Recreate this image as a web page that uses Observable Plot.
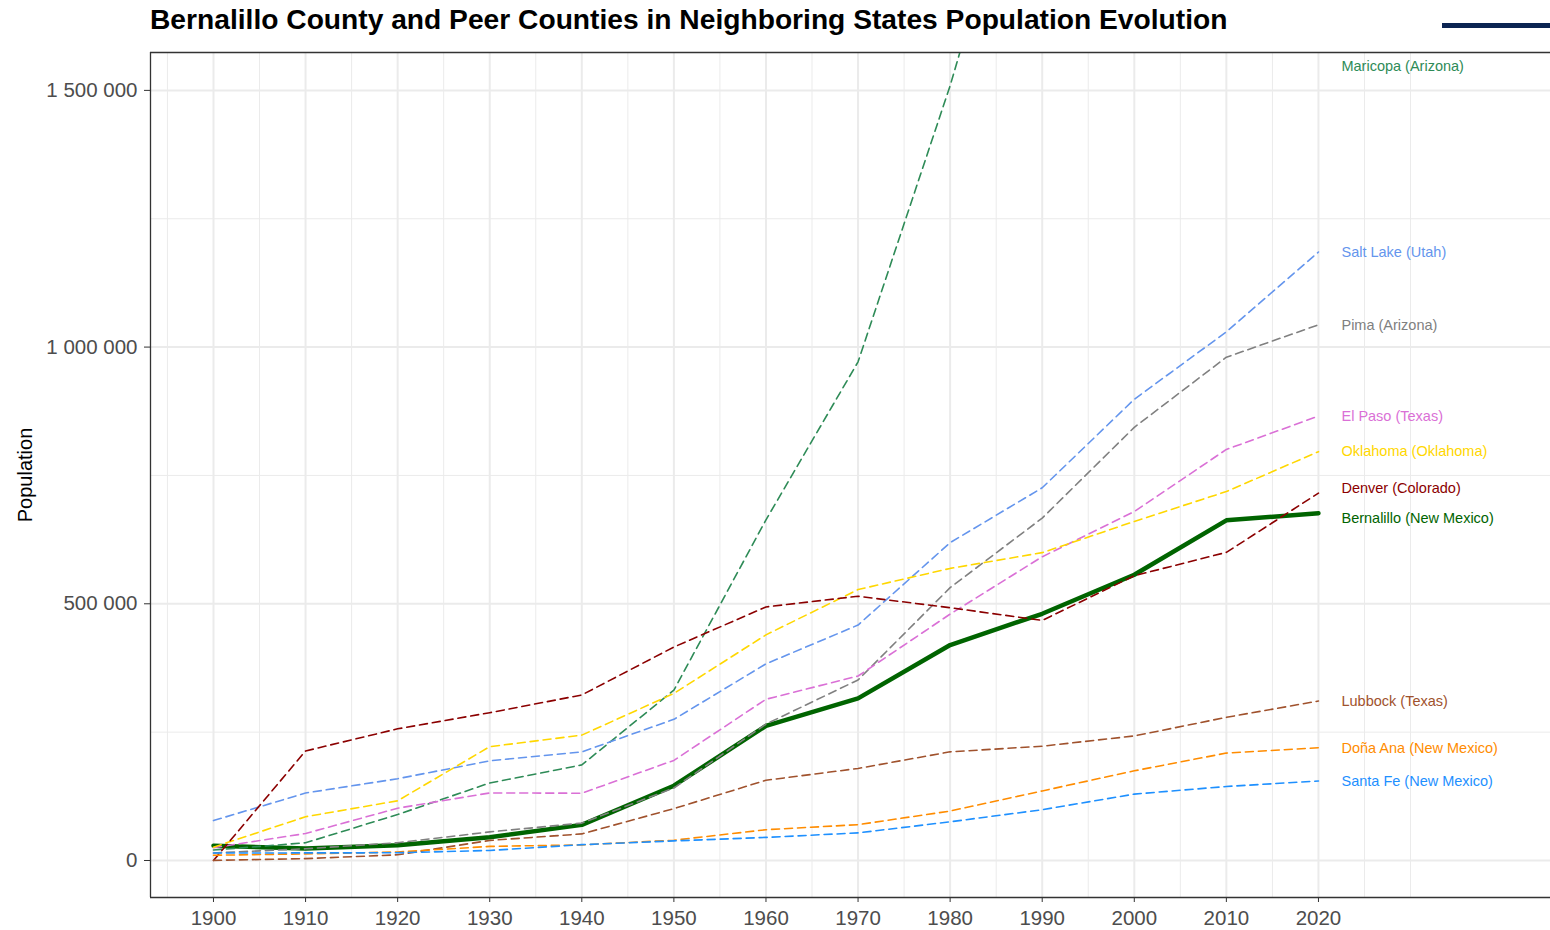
<!DOCTYPE html>
<html>
<head>
<meta charset="utf-8">
<script src="https://cdn.jsdelivr.net/npm/d3@7"></script>
<script src="https://cdn.jsdelivr.net/npm/@observablehq/plot@0.6"></script>
<style>
  html, body { margin: 0; padding: 0; background: #fff; }
  body { width: 1550px; height: 930px; overflow: hidden; font-family: "Liberation Sans", Arial, Helvetica, sans-serif; }
  #wrap { position: relative; width: 1550px; }
  #title { position: absolute; left: 150px; top: 3px; font-size: 28.2px; font-weight: bold; color: #000; white-space: nowrap; }
  #bar { position: absolute; left: 1442px; top: 23px; width: 108px; height: 5px; background: #0b2452; }
  #chart { position: absolute; left: 0; top: 40px; }
  #chart svg { font-family: "Liberation Sans", Arial, Helvetica, sans-serif; }
  #chart svg g[aria-label$="axis"] text, #chart svg g[aria-label*="tick label"] text { fill: #4d4d4d; }
</style>
</head>
<body>
<div id="wrap">
  <div id="title">Bernalillo County and Peer Counties in Neighboring States Population Evolution</div>
  <div id="bar"></div>
  <div id="chart"></div>
</div>
<script>
const years = [1900, 1910, 1920, 1930, 1940, 1950, 1960, 1970, 1980, 1990, 2000, 2010, 2020];

const counties = [
  "Bernalillo (New Mexico)", "Maricopa (Arizona)", "Salt Lake (Utah)", "Pima (Arizona)",
  "El Paso (Texas)", "Oklahoma (Oklahoma)", "Denver (Colorado)", "Lubbock (Texas)",
  "Doña Ana (New Mexico)", "Santa Fe (New Mexico)"
];
const colors = [
  "#006400", "#2E8B57", "#6495ED", "#808080",
  "#DA70D6", "#FFD700", "#8B0000", "#A0522D",
  "#FF8C00", "#1E90FF"
];

const bernalillo = [28630, 23606, 29855, 45430, 69391, 145673, 262199, 315774, 419700, 480577, 556678, 662564, 676444];
const maricopa   = [20457, 34488, 89576, 150970, 186193, 331770, 663510, 971228, 1509175, 2122101, 3072149, 3817117, 4420568];
const saltLake   = [77725, 131426, 159282, 194102, 211623, 274895, 383035, 458607, 619066, 725956, 898387, 1029655, 1185238];
const pima       = [14689, 22818, 34680, 55676, 72838, 141216, 265660, 351667, 531443, 666880, 843746, 980263, 1043433];
const elPaso     = [24886, 52599, 101877, 131597, 131067, 194968, 314070, 359291, 479899, 591610, 679622, 800647, 865657];
const oklahoma   = [25915, 85232, 116307, 221738, 244159, 325352, 439506, 527717, 568933, 599611, 660448, 718633, 796292];
const denver     = [0, 213381, 256491, 287861, 322412, 415786, 493887, 514678, 492365, 467610, 554636, 600158, 715522];
const lubbock    = [293, 3624, 11096, 39104, 51782, 101048, 156271, 179295, 211651, 222636, 242628, 278831, 310639];
const donaAna    = [10187, 12893, 16548, 27455, 30411, 39557, 59948, 69773, 96340, 135510, 174682, 209233, 219561];
const santaFe    = [14658, 14770, 15030, 19567, 30826, 38153, 44970, 53756, 75360, 98928, 129292, 144170, 154823];

// vertical position (in population units) of each end label, as placed in the reference
const labelValues = [666000, 1546000, 1184000, 1042000, 866000, 796000, 724500, 310000, 218000, 154000];

const yTicks = [0, 500000, 1000000, 1500000];
const yMinor = [250000, 750000, 1250000];
const xMinor = [1895, 1905, 1915, 1925, 1935, 1945, 1955, 1965, 1975, 1985, 1995, 2005, 2015, 2025, 2030];

const series = [bernalillo, maricopa, saltLake, pima, elPaso, oklahoma, denver, lubbock, donaAna, santaFe];
const rows = [];
series.forEach((vals, i) => vals.forEach((v, j) => rows.push({county: counties[i], year: years[j], pop: v})));
const solid = rows.filter(d => d.county === counties[0]);
const dashed = rows.filter(d => d.county !== counties[0]);
const labels = counties.map((c, i) => ({county: c, year: years[years.length - 1], pop: labelValues[i]}));

const xDomain = [1893.16, 2045.2];
const yDomain = [-72070, 1573800];

const fmt = d3.formatLocale({decimal: ".", thousands: " ", grouping: [3], currency: ["", ""]}).format(",");

const chart = Plot.plot({
  width: 1550,
  height: 890,
  marginTop: 12,
  marginBottom: 33,
  marginLeft: 150,
  marginRight: 0,
  style: {fontSize: "20.5px", color: "#333", background: "#fff"},
  x: {domain: xDomain, ticks: years, tickFormat: d => String(d), tickSize: 5, tickPadding: 8, label: null},
  y: {domain: yDomain, ticks: yTicks, tickFormat: fmt, tickSize: 6, tickPadding: 7, label: null},
  color: {domain: counties, range: colors},
  marks: [
    Plot.ruleX(xMinor, {stroke: "#ebebeb", strokeWidth: 1}),
    Plot.ruleY(yMinor, {stroke: "#ebebeb", strokeWidth: 1}),
    Plot.ruleX(years, {stroke: "#ebebeb", strokeWidth: 2}),
    Plot.ruleY(yTicks, {stroke: "#ebebeb", strokeWidth: 2}),
    Plot.line(solid, {x: "year", y: "pop", z: "county", stroke: "county", strokeWidth: 4.5, clip: true}),
    Plot.line(dashed, {x: "year", y: "pop", z: "county", stroke: "county", strokeWidth: 1.6, strokeDasharray: "8,5", clip: true}),
    Plot.text(labels, {x: "year", y: "pop", text: "county", fill: "county", dx: 23, textAnchor: "start", fontSize: 14.5}),
    Plot.ruleX([xDomain[0]], {stroke: "#333", strokeWidth: 1.3}),
    Plot.ruleY([yDomain[0]], {stroke: "#333", strokeWidth: 1.3}),
    Plot.ruleY([yDomain[1]], {stroke: "#333", strokeWidth: 1.3}),
    Plot.text(["Population"], {frameAnchor: "left", dx: -125, rotate: -90, textAnchor: "middle", fontSize: 20, fill: "#000"})
  ]
});
document.getElementById("chart").appendChild(chart);
</script>
</body>
</html>
